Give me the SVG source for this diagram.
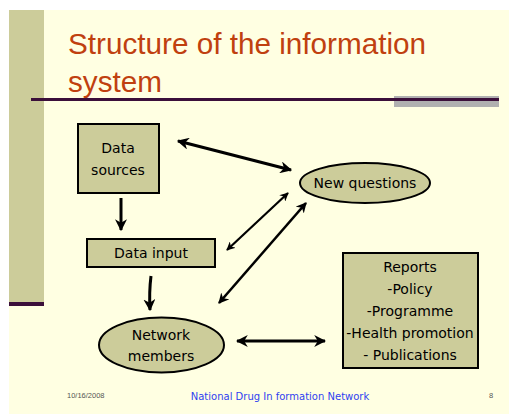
<svg xmlns="http://www.w3.org/2000/svg" width="509" height="414" viewBox="0 0 509 414">
<defs>
<style>
.node{fill:#cccc9a;stroke:#000;stroke-width:2}
.lbl{font-family:"DejaVu Sans",sans-serif;font-size:14px;fill:#000;text-anchor:middle}
.con{stroke:#000;fill:none;stroke-linecap:butt}
</style>
<marker id="ah" viewBox="0 0 10 10" refX="9" refY="5" markerWidth="4" markerHeight="4" orient="auto-start-reverse" markerUnits="strokeWidth">
<path d="M0,0 L10,5 L0,10 L3,5 Z" fill="#000"/>
</marker>
</defs>
<rect x="0" y="0" width="509" height="414" fill="#ffffff"/>
<rect x="9" y="10" width="500" height="404" fill="#ffffe2"/>
<rect x="9" y="10" width="35" height="292" fill="#cccc9a"/>
<rect x="9" y="302" width="35" height="4" fill="#3b0f3a"/>
<rect x="394" y="96" width="105" height="11" fill="#b0b0b0"/>
<rect x="31" y="98" width="468" height="3" fill="#3b0f3a"/>
<text x="68" y="54" font-family="Liberation Sans, Arial, sans-serif" font-size="29.7" fill="#c0400f">Structure of the information</text>
<text x="68" y="92" font-family="Liberation Sans, Arial, sans-serif" font-size="29.7" fill="#c0400f">system</text>

<g id="connectors">
<line class="con" x1="178" y1="141" x2="291" y2="170" stroke-width="3" marker-start="url(#ah)" marker-end="url(#ah)"/>
<line class="con" x1="121" y1="198" x2="121" y2="230" stroke-width="3" marker-end="url(#ah)"/>
<line class="con" x1="288" y1="193" x2="227" y2="250" stroke-width="2.2" marker-start="url(#ah)" marker-end="url(#ah)"/>
<line class="con" x1="306" y1="203" x2="219" y2="303" stroke-width="2.6" marker-start="url(#ah)" marker-end="url(#ah)"/>
<path class="con" d="M151,276 Q149,292 150,310" stroke-width="3" marker-end="url(#ah)"/>
<line class="con" x1="237" y1="341" x2="325" y2="341" stroke-width="3" marker-start="url(#ah)" marker-end="url(#ah)"/>
</g>

<g id="data-sources">
<rect class="node" x="78" y="124" width="81" height="69"/>
<text class="lbl" x="118" y="153">Data</text>
<text class="lbl" x="118" y="175">sources</text>
</g>
<g id="data-input">
<rect class="node" x="87" y="239" width="128" height="28"/>
<text class="lbl" x="151" y="258">Data input</text>
</g>
<g id="new-questions">
<ellipse class="node" cx="365" cy="183" rx="65" ry="20"/>
<text class="lbl" x="365" y="188">New questions</text>
</g>
<g id="network-members">
<ellipse class="node" cx="161.5" cy="345" rx="62.5" ry="27.5"/>
<text class="lbl" x="161" y="340">Network</text>
<text class="lbl" x="161" y="361">members</text>
</g>
<g id="reports">
<rect class="node" x="343" y="253" width="135" height="115"/>
<text class="lbl" x="410" y="272">Reports</text>
<text class="lbl" x="410" y="294">-Policy</text>
<text class="lbl" x="410" y="316">-Programme</text>
<text class="lbl" x="410" y="338">-Health promotion</text>
<text class="lbl" x="410" y="360">- Publications</text>
</g>

<text x="67" y="398" font-family="Liberation Sans, Arial, sans-serif" font-size="7.5" fill="#555">10/16/2008</text>
<text x="280" y="400" font-family="DejaVu Sans, sans-serif" font-size="10" fill="#2f3ff0" text-anchor="middle">National Drug In formation Network</text>
<text x="489" y="398" font-family="Liberation Sans, Arial, sans-serif" font-size="7.5" fill="#555">8</text>
</svg>
